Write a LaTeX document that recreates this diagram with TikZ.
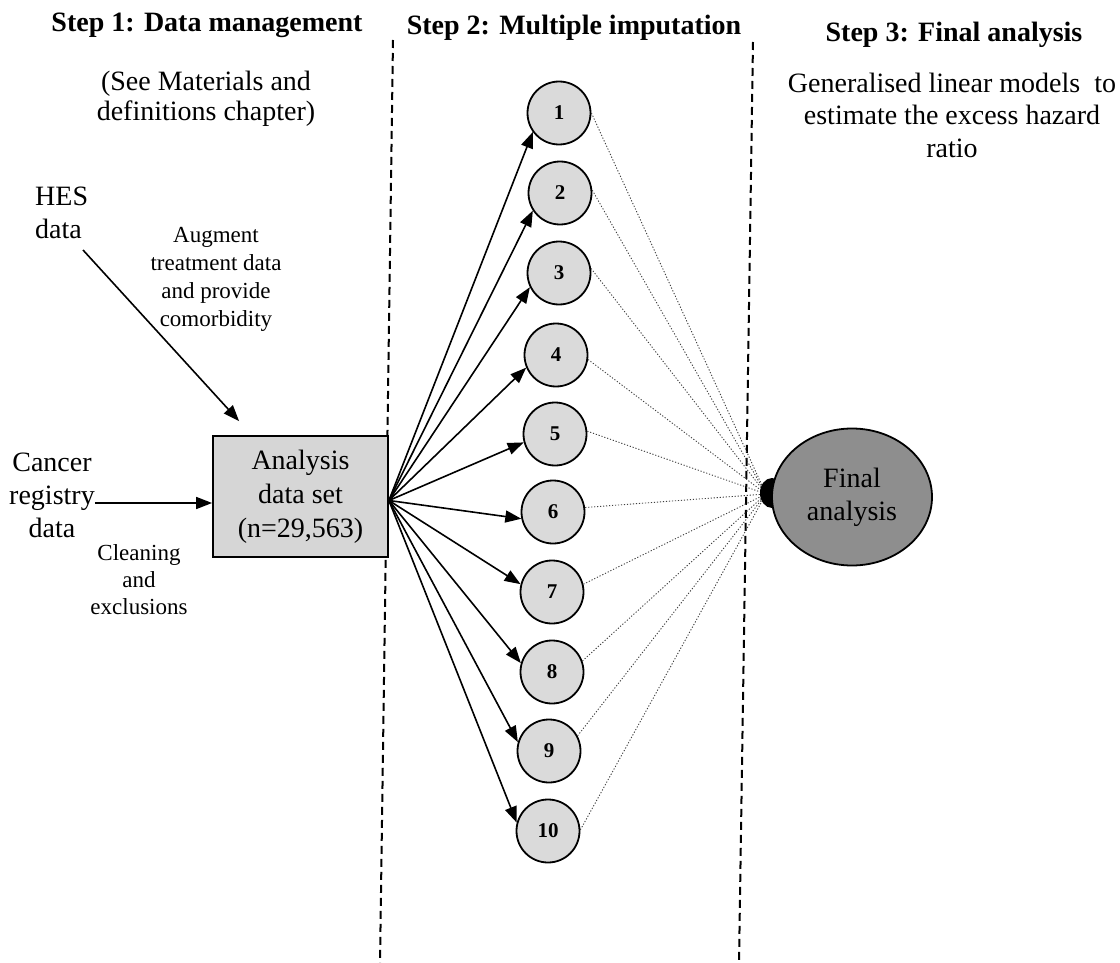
\documentclass[tikz,border=0pt]{standalone}
\usepackage{fontspec}
\setmainfont{Liberation Serif}
\usetikzlibrary{arrows.meta,shapes.geometric}
\definecolor{pale}{RGB}{218,218,218}
\definecolor{boxgray}{RGB}{214,214,214}
\definecolor{darkfill}{RGB}{142,142,142}
\begin{document}
\begin{tikzpicture}[x=1pt,y=-1pt,
  head/.style={font=\bfseries\fontsize{28}{33}\selectfont,inner sep=0pt,anchor=base},
  txt/.style={font=\fontsize{28}{33}\selectfont,align=center,inner sep=0pt,anchor=base},
  small/.style={font=\fontsize{23}{28}\selectfont,align=center,inner sep=0pt,anchor=base},
  imp/.style={circle,draw,line width=1.8pt,fill=pale,minimum size=63pt,inner sep=0pt,
    font=\bfseries\fontsize{21}{21}\selectfont},
  flow/.style={line width=1.6pt,-{Triangle[length=16pt,width=12pt]}},
  pool/.style={line width=0.9pt,dash pattern=on 1.2pt off 1.8pt,black!75},
  divider/.style={line width=2pt,dash pattern=on 8pt off 5pt},
]
\useasboundingbox (0,0) rectangle (1120,963);

% column dividers
\coordinate (d1t) at (393,40);
\coordinate (d1b) at (380,963);
\coordinate (d2t) at (753,42);
\coordinate (d2b) at (739,963);
\draw[divider] (d1t) -- (d1b);
\draw[divider] (d2t) -- (d2b);

% column headings (multi-line texts are anchored at their last baseline)
\node[head] (h1) at (207,32) {Step 1: Data management};
\node[head] (h2) at (574,35) {Step 2: Multiple imputation};
\node[head] (h3) at (954,42) {Step 3: Final analysis};

\node[txt,font=\fontsize{28}{30}\selectfont] (see) at (206,121) {(See Materials and\\definitions chapter)};
\node[txt] (glm) at (952,158) {Generalised linear models~ to\\estimate the excess hazard\\ratio};

% data sources
\node[txt,align=left,anchor=base west] (hes) at (35,238) {HES\\data};
\node[small] (aug) at (216,326) {Augment\\treatment data\\and provide\\comorbidity};
\node[txt] (cancer) at (52,537) {Cancer\\registry\\data};
\node[small,font=\fontsize{23}{27}\selectfont] (clean) at (139,614) {Cleaning\\and\\exclusions};

% analysis data set
\node[draw,line width=1.8pt,fill=boxgray,minimum width=175pt,minimum height=121pt,
  inner sep=0pt,align=center,font=\fontsize{28}{34}\selectfont] (box) at (300.5,496.5)
  {Analysis\\data set\\(n=29,563)};

\coordinate (hesout) at (83,250);
\coordinate (hesin) at ([shift={(27,-14)}]box.north west);
\draw[flow] (hesout) -- (hesin);
\draw[flow] (cancer.east |- 0,503) -- (box.west |- 0,503);

% imputed data sets
\foreach \i/\x/\y in {1/559/113,2/560/193,3/559/273,4/556/355,5/555/434,
                      6/553/512,7/552/592,8/552/672,9/549/751,10/548/831}
  \node[imp] (m\i) at (\x,\y) {\i};

\coordinate (fan) at ([yshift=-4pt]box.east);
\foreach \i/\a in {1/216,2/213,3/206,4/203,5/195,6/192,7/166,8/164,9/164,10/165}
  \draw[flow] (fan) -- (m\i.\a);

% pooling into the final analysis
\coordinate (hub) at (766,494);
\foreach \i/\a in {1/0,2/5,3/8,4/-8,5/5,6/8,7/14,8/20,9/28,10/2}
  \draw[pool] (m\i.\a) -- (hub);

\fill (772,493) ellipse [x radius=12, y radius=15];
\node[ellipse,draw,line width=1.8pt,fill=darkfill,minimum width=160pt,minimum height=137pt,
  inner sep=0pt,align=center,font=\fontsize{28}{33}\selectfont] (final) at (852,497)
  {Final\\analysis};
\end{tikzpicture}
\end{document}
